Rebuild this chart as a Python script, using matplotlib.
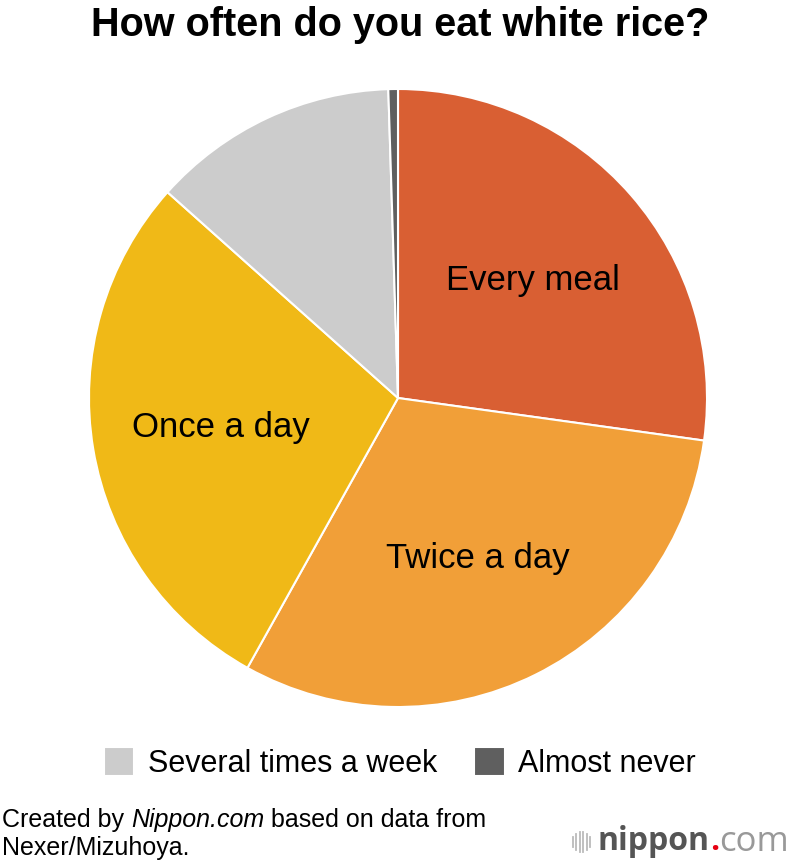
import matplotlib.pyplot as plt

plt.rcParams["font.family"] = ["Liberation Sans", "DejaVu Sans"]

# survey shares (%), clockwise from 12 o'clock
categories = ["Every meal", "Twice a day", "Once a day", "Several times a week", "Almost never"]
shares = [27.2, 30.9, 28.5, 12.9, 0.5]
colors = ["#D95F33", "#F19F38", "#F0B917", "#CCCCCC", "#5F5F5F"]
inside_labels = ["Every meal", "Twice a day", "Once a day", "", ""]

fig = plt.figure(figsize=(8, 8.66), dpi=100)
ax = fig.add_axes([89 / 800, 1 - 707 / 866, 618 / 800, 618 / 866])

wedges, texts = ax.pie(
    shares,
    labels=inside_labels,
    colors=colors,
    startangle=90,
    counterclock=False,
    labeldistance=0.58,
    radius=1.0,
    wedgeprops=dict(edgecolor="white", linewidth=1.5),
)
for t in texts:
    t.set_ha("center")
    t.set_va("center")
    t.set_fontsize(25)
ax.set_xlim(-1.0, 1.0)
ax.set_ylim(-1.0, 1.0)
ax.set_aspect("equal")

fig.text(0.5, 1 - 25 / 866, "How often do you eat white rice?",
         ha="center", va="center", fontsize=28.5, fontweight="bold")

fig.legend(wedges[3:], categories[3:], loc="center", ncol=2,
           bbox_to_anchor=(0.5, 1 - 763 / 866), frameon=False,
           fontsize=22, handlelength=1.0, handleheight=1.1,
           handletextpad=0.45, columnspacing=1.2)

renderer = fig.canvas.get_renderer()


def run_text(x_px, y_frac, parts):
    # lay out text pieces one after another on one line
    x = x_px
    for s, kw in parts:
        t = fig.text(x / 800, y_frac, s, ha="left", va="center", **kw)
        x = t.get_window_extent(renderer).x1
    return x


fs = 18
run_text(2, 1 - 820 / 866, [("Created by ", dict(fontsize=fs)),
                            ("Nippon.com", dict(fontsize=fs, style="italic")),
                            (" based on data from", dict(fontsize=fs))])
fig.text(2 / 800, 1 - 848 / 866, "Nexer/Mizuhoya.",
         ha="left", va="center", fontsize=fs)

# nippon.com logo
ly = 1 - 842 / 866
for i, h in enumerate([0.5, 0.8, 1.0, 1.0, 0.8, 0.5]):
    x = (573 + i * 3.4) / 800
    fig.add_artist(plt.Line2D([x, x], [ly - 0.012 * h, ly + 0.012 * h],
                              color="#BBBBBB", linewidth=1.3))
run_text(598, ly, [("nippon", dict(fontsize=23, fontweight="bold", color="#555555", family="Open Sans")),
                   (".", dict(fontsize=23, fontweight="bold", color="#E60012", family="Open Sans")),
                   ("com", dict(fontsize=25, color="#999999", family="Open Sans"))])

fig.savefig("out.png", dpi=100, facecolor="white")
